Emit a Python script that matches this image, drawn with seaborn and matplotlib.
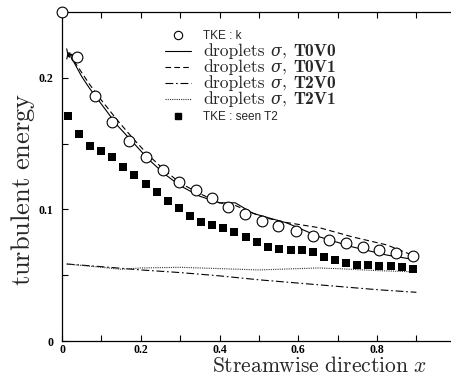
import matplotlib
matplotlib.use("Agg")
import matplotlib.pyplot as plt
from matplotlib.lines import Line2D
from matplotlib.legend_handler import HandlerLine2D
import seaborn as sns

# ---------------- data ----------------
tke_k_x = [0.0, 0.038, 0.084, 0.127, 0.170, 0.213, 0.257, 0.297, 0.340, 0.381, 0.422,
           0.465, 0.508, 0.549, 0.594, 0.638, 0.678, 0.721, 0.765, 0.805, 0.848, 0.892]
tke_k_y = [0.250, 0.2158, 0.1862, 0.1664, 0.1520, 0.1398, 0.1299, 0.1208, 0.1147, 0.1087, 0.1018,
           0.0965, 0.0912, 0.0874, 0.0836, 0.0798, 0.0767, 0.0745, 0.0714, 0.0691, 0.0669, 0.0646]

tke_t2_x = [0.015, 0.043, 0.071, 0.099, 0.127, 0.155, 0.183, 0.213, 0.241, 0.269, 0.297,
            0.325, 0.353, 0.381, 0.409, 0.437, 0.467, 0.495, 0.523, 0.551, 0.582, 0.610,
            0.637, 0.665, 0.693, 0.721, 0.749, 0.777, 0.805, 0.836, 0.863, 0.891]
tke_t2_y = [0.171, 0.1573, 0.1482, 0.1444, 0.1398, 0.1322, 0.1261, 0.1193, 0.1132, 0.1064, 0.1011,
            0.0950, 0.0904, 0.0881, 0.0859, 0.0828, 0.0790, 0.0752, 0.0714, 0.0699, 0.0691, 0.0691,
            0.0676, 0.0638, 0.0616, 0.0593, 0.0578, 0.0578, 0.0570, 0.0570, 0.0562, 0.0547]

t0v0_x = [0.012, 0.016, 0.020, 0.025, 0.030, 0.05, 0.07, 0.10, 0.14, 0.18, 0.22, 0.26, 0.30,
          0.35, 0.40, 0.44, 0.485, 0.52, 0.571, 0.655, 0.739, 0.825, 0.90]
t0v0_y = [0.222, 0.216, 0.219, 0.214, 0.212, 0.201, 0.192, 0.180, 0.164, 0.151, 0.138, 0.127,
          0.118, 0.110, 0.105, 0.105, 0.097, 0.094, 0.0897, 0.079, 0.0714, 0.0653, 0.0616]

t0v1_x = [0.012, 0.016, 0.020, 0.025, 0.030, 0.05, 0.07, 0.10, 0.14, 0.18, 0.22, 0.26, 0.30,
          0.35, 0.40, 0.44, 0.51, 0.571, 0.655, 0.739, 0.825, 0.90]
t0v1_y = [0.214, 0.220, 0.215, 0.218, 0.213, 0.204, 0.195, 0.183, 0.168, 0.154, 0.141, 0.130,
          0.120, 0.112, 0.105, 0.103, 0.094, 0.090, 0.086, 0.079, 0.073, 0.064]

t2v0_x = [0.012, 0.1, 0.2, 0.3, 0.4, 0.5, 0.6, 0.7, 0.8, 0.9]
t2v0_y = [0.0585, 0.0565, 0.054, 0.052, 0.0495, 0.0465, 0.044, 0.0415, 0.039, 0.037]

t2v1_x = [0.012, 0.1, 0.15, 0.2, 0.3, 0.4, 0.5, 0.6, 0.65, 0.7, 0.8, 0.9]
t2v1_y = [0.0585, 0.056, 0.0545, 0.0555, 0.056, 0.055, 0.054, 0.055, 0.0555, 0.055, 0.0535, 0.0525]

x_ticks = [0.0, 0.2, 0.4, 0.6, 0.8]
x_tick_labels = ["0", "0.2", "0.4", "0.6", "0.8"]
y_ticks = [0.0, 0.1, 0.2]
y_tick_labels = ["0", "0.1", "0.2"]

label_k = "TKE : k"
label_t2 = "TKE : seen T2"
drop_word = "droplets"
drop_sigma = "σ"
drop_cases = ["T0V0", "T0V1", "T2V0", "T2V1"]

# ---------------- style ----------------
sns.set_style("white")
plt.rcParams["mathtext.fontset"] = "cm"
plt.rcParams["font.family"] = ["DejaVu Sans"]

fig = plt.figure(figsize=(4.51, 3.76), dpi=100)
ax = fig.add_axes([62 / 451, 35 / 376, 393.75 / 451, 329 / 376])

lw = 0.8
dash = (0, (5, 3))
dashdot = (0, (7, 2.5, 1.5, 2.5))
dotted = (0, (1, 1))
styles = ["-", dash, dashdot, dotted]
colors = ["black", "black", "black", "#333333"]
for xs, ys, ls, c in zip([t0v0_x, t0v1_x, t2v0_x, t2v1_x], [t0v0_y, t0v1_y, t2v0_y, t2v1_y],
                         styles, colors):
    sns.lineplot(x=xs, y=ys, ax=ax, color=c, lw=lw, linestyle=ls, sort=False)

sns.scatterplot(x=tke_k_x, y=tke_k_y, ax=ax, marker="o", s=60, facecolor="white",
                edgecolor="black", linewidth=0.8, clip_on=False, zorder=5)
sns.scatterplot(x=tke_t2_x, y=tke_t2_y, ax=ax, marker="s", s=26, color="black",
                edgecolor="black", linewidth=0, zorder=5)

ax.set_xlim(0, 1.0)
ax.set_ylim(0, 0.25)

ax.set_xticks(x_ticks)
ax.set_xticklabels(x_tick_labels)
ax.set_yticks(y_ticks)
ax.set_yticklabels(y_tick_labels)
ax.set_xticks([0.1, 0.3, 0.5, 0.7, 0.9], minor=True)
ax.set_yticks([0.05, 0.15], minor=True)
ax.tick_params(which="both", direction="in", length=4, width=0.8, top=True, right=False,
               bottom=True, left=True, colors="black")
ax.tick_params(axis="x", which="major", pad=2)
ax.tick_params(axis="y", which="major", pad=6)
for t in ax.get_xticklabels() + ax.get_yticklabels():
    t.set_fontfamily("Liberation Serif")
    t.set_fontweight("bold")
    t.set_fontsize(8.5)

for s in ["left", "bottom", "top"]:
    ax.spines[s].set_color("black")
    ax.spines[s].set_linewidth(0.9)
ax.spines["right"].set_visible(False)

ax.set_xlabel(r"$\mathrm{Streamwise\ direction}\ x$", fontsize=15.5, va="baseline")
ax.xaxis.set_label_coords((319 - 62) / 393.75, -(371.5 - 341) / 329)
ax.set_ylabel(r"$\mathrm{turbulent\ energy}$", fontsize=19)
ax.yaxis.set_label_coords(-(62 - 37) / 393.75, 0.46)

# ---------------- legend ----------------
W, H = 451.0, 376.0

def fx(px):
    return px / W

def fy(py):
    return 1 - py / H

class RightMarker(HandlerLine2D):
    def get_xdata(self, legend, xdescent, ydescent, width, height, fontsize):
        xdata, _ = super().get_xdata(legend, xdescent, ydescent, width, height, fontsize)
        return xdata, [-xdescent + width + 3.2]

HW = 19.0    # handle width in points
HP = 8.5     # handle-text gap in points
lx = (165 - 62) / 393.75
common = dict(frameon=False, borderpad=0, borderaxespad=0, loc="center left")
fsk = 8.5

h_k = Line2D([], [], linestyle="none", marker="o", markersize=6, markerfacecolor="white",
             markeredgecolor="black", markeredgewidth=0.8)
leg_k = ax.legend([h_k], [label_k], bbox_to_anchor=(lx, (341 - 36) / 329),
                  handlelength=HW / fsk, handletextpad=HP / fsk,
                  handler_map={h_k: RightMarker(numpoints=1)},
                  prop={"family": "Liberation Sans", "size": fsk}, **common)
ax.add_artist(leg_k)

h_t2 = Line2D([], [], linestyle="none", marker="s", markersize=5, markerfacecolor="black",
              markeredgecolor="black")
leg_t = ax.legend([h_t2], [label_t2], bbox_to_anchor=(lx, (341 - 117) / 329),
                  handlelength=HW / fsk, handletextpad=HP / fsk,
                  handler_map={h_t2: RightMarker(numpoints=1)},
                  prop={"family": "Liberation Sans", "size": fsk}, **common)

# droplet rows: line key + "droplets σ, TxVx" (computer-modern look)
renderer = fig.canvas.get_renderer()
fsd = 12.6
baselines = [56, 72, 88, 104]
for case, ls, c, yb in zip(drop_cases, styles, colors, baselines):
    yc = yb - 5
    fig.add_artist(Line2D([fx(165), fx(191)], [fy(yc), fy(yc)], color=c, lw=lw,
                          linestyle=ls, transform=fig.transFigure))
    x = 203.0
    t1 = fig.text(fx(x), fy(yb), drop_word, family="cmr10", size=fsd, va="baseline")
    x += t1.get_window_extent(renderer).width + 6
    t2 = fig.text(fx(x), fy(yb), drop_sigma, family="DejaVu Serif", style="italic",
                  size=11.3, va="baseline")
    x += t2.get_window_extent(renderer).width + 0.5
    t3 = fig.text(fx(x), fy(yb), ",", family="cmr10", size=fsd, va="baseline")
    x += t3.get_window_extent(renderer).width + 6.5
    fig.text(fx(x), fy(yb), case, family="cmb10", size=fsd, va="baseline")

fig.savefig("out.png", dpi=100)
